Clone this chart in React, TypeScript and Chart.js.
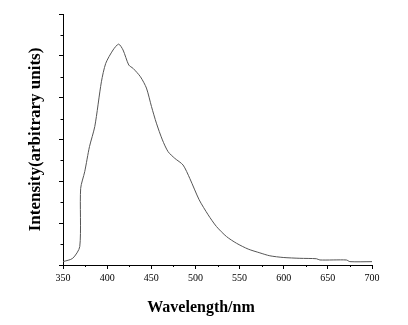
import React, { useEffect, useRef } from "react";
import { Chart, registerables } from "chart.js";

Chart.register(...registerables);

const wavelengths = [350, 361, 369, 370, 374.6, 380, 386, 393.5, 398.4, 406.7, 413, 418, 424.5, 429.4, 437.7, 444.5, 450.2, 455.8, 462.6, 469, 476.6, 486, 493.6, 504.2, 514.4, 523.8, 535.2, 546.5, 559.8, 573, 584.3, 599.4, 618.3, 637, 641, 671, 675, 700];
const intensity = [0.08, 0.16, 0.44, 1.83, 2.23, 2.83, 3.31, 4.38, 4.82, 5.14, 5.28, 5.14, 4.78, 4.70, 4.50, 4.23, 3.79, 3.39, 2.99, 2.71, 2.55, 2.39, 2.07, 1.56, 1.20, 0.92, 0.68, 0.52, 0.38, 0.29, 0.22, 0.18, 0.16, 0.15, 0.12, 0.12, 0.08, 0.08];
const xTickValues = [350, 400, 450, 500, 550, 600, 650, 700];
const xTitle = "Wavelength/nm";
const yTitle = "Intensity(arbitrary units)";

const minorTicks = {
  id: "minorTicks",
  afterDraw(chart: any) {
    const ctx = chart.ctx;
    const xs = chart.scales.x;
    const ys = chart.scales.y;
    ctx.save();
    ctx.strokeStyle = "#000";
    ctx.lineWidth = 1;
    ctx.beginPath();
    for (let i = 0; i < xTickValues.length - 1; i++) {
      const v = (xTickValues[i] + xTickValues[i + 1]) / 2;
      const px = Math.round(xs.getPixelForValue(v)) + 0.5;
      ctx.moveTo(px, xs.top);
      ctx.lineTo(px, xs.top + 2);
    }
    for (let v = 0.5; v < 6; v += 1) {
      const py = Math.round(ys.getPixelForValue(v)) + 0.5;
      ctx.moveTo(ys.right, py);
      ctx.lineTo(ys.right - 2.5, py);
    }
    ctx.stroke();
    // axis titles
    ctx.fillStyle = "#000";
    ctx.textAlign = "center";
    ctx.textBaseline = "middle";
    ctx.font = "bold 16px 'Liberation Serif', 'Times New Roman', serif";
    ctx.fillText(xTitle, 201, 308);
    ctx.translate(36, (ys.top + ys.bottom) / 2);
    ctx.rotate(-Math.PI / 2);
    ctx.font = "bold 17px 'Liberation Serif', 'Times New Roman', serif";
    ctx.fillText(yTitle, 0, 0);
    ctx.restore();
  },
};

export default function App() {
  const ref = useRef<HTMLCanvasElement>(null);
  useEffect(() => {
    if (!ref.current) return;
    const chart = new Chart(ref.current, {
      type: "line",
      data: {
        datasets: [
          {
            data: wavelengths.map((w, i) => ({ x: w, y: intensity[i] })),
            borderColor: "#555",
            borderWidth: 1,
            pointRadius: 0,
            tension: 0.25,
            fill: false,
          },
        ],
      },
      options: {
        animation: false,
        responsive: false,
        layout: { padding: { left: 0, right: 36, top: 14, bottom: 0 } },
        plugins: { legend: { display: false }, tooltip: { enabled: false } },
        scales: {
          x: {
            type: "linear",
            min: 350,
            max: 700,
            afterBuildTicks: (s: any) => {
              s.ticks = xTickValues.map((v) => ({ value: v }));
            },
            afterFit: (s: any) => {
              s.height = 60;
            },
            grid: { drawOnChartArea: false, drawTicks: true, tickLength: 4, color: "#000" },
            border: { color: "#000", width: 1 },
            ticks: {
              color: "#000",
              padding: 3,
              maxRotation: 0,
              font: { family: "'Liberation Serif', 'Times New Roman', serif", size: 10 },
            },
          },
          y: {
            type: "linear",
            min: 0,
            max: 6,
            afterFit: (s: any) => {
              s.width = 63;
            },
            grid: { drawOnChartArea: false, drawTicks: true, tickLength: 4, color: "#000" },
            border: { color: "#000", width: 1 },
            ticks: { stepSize: 1, display: true, callback: () => "" },
          },
        },
      },
      plugins: [minorTicks],
    });
    return () => chart.destroy();
  }, []);
  return (
    <div style={{ position: "fixed", left: 0, top: 0, width: 408, height: 325, background: "#fff" }}>
      <canvas ref={ref} width={408} height={325} />
    </div>
  );
}
